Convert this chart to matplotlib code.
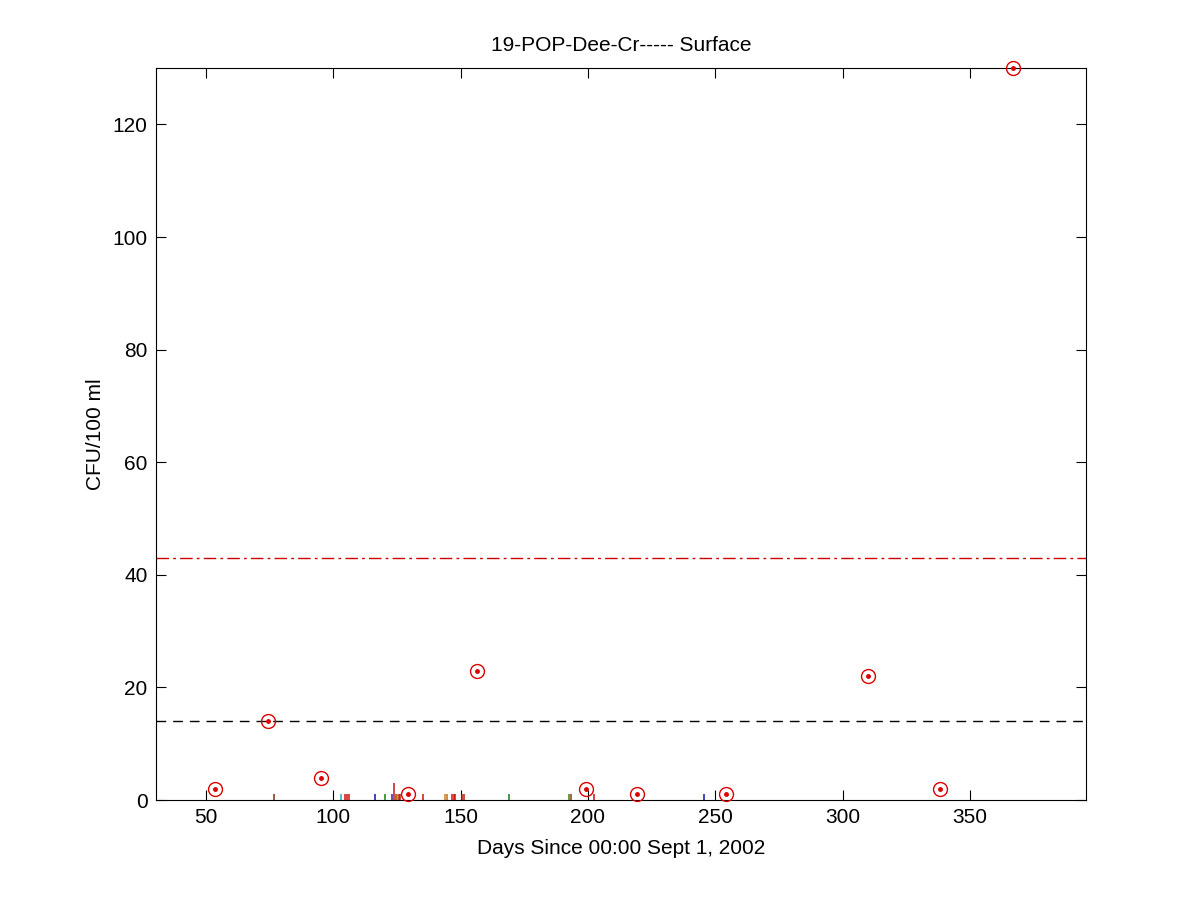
import numpy as np
import matplotlib
matplotlib.use("Agg")
import matplotlib.pyplot as plt

plt.rcParams.update({"font.family": ["Liberation Sans", "DejaVu Sans"],
                     "font.size": 15})

# sample results (day, CFU/100 ml)
days = [53.5, 74.4, 95.2, 129.3, 156.4, 199.3, 219.3, 254.2, 310.0, 338.3, 367.0]
cfu = [2, 14, 4, 1, 23, 2, 1, 1, 22, 2, 130]

# small coloured bars along the bottom
bar_days = [76.7, 102.9, 104.8, 105.3, 106.2, 116.4, 120.2, 122.9, 124.0, 124.5,
            125.1, 125.7, 126.2, 135.1, 144.0, 144.5, 146.8, 147.4, 147.9,
            150.7, 151.5, 168.9, 192.7, 193.4, 202.5, 245.7]
bar_vals = [1, 1, 1, 1, 1, 1, 1, 1, 3, 1,
            1, 1, 1, 1, 1, 1, 1, 1, 1,
            1, 1, 1, 1, 1, 1, 1]
bar_cols = ["#8b2a10", "#20b0b0", "#d01010", "#d01010", "#d01010", "#1010b0",
            "#108010", "#4020a0", "#d01010", "#108010", "#c07010", "#d01010",
            "#b02010", "#d01010", "#d08020", "#c07010", "#d01010", "#d01010",
            "#d01010", "#b02010", "#b02010", "#108010", "#408010", "#8b4010",
            "#d01010", "#1010b0"]

ref_hi = 43
ref_lo = 14

fig = plt.figure(figsize=(12, 9), dpi=100)
ax = fig.add_axes([0.13, 0.111, 0.775, 0.8133])

ax.vlines(bar_days, 0, bar_vals, colors=bar_cols, lw=1.1, zorder=2)
ax.axhline(ref_hi, color="#cc0000", lw=1.0, ls=(0, (9, 3, 2, 3)), zorder=1)
ax.axhline(ref_lo, color="black", lw=1.0, ls=(0, (7, 5)), zorder=1)
ax.plot(days, cfu, "o", ms=10, mfc="none", mec="#dd0000", mew=1.0,
        clip_on=False, zorder=3)
ax.plot(days, cfu, ".", ms=5, color="#dd0000", clip_on=False, zorder=3)

ax.set_xlim(30.4, 395.6)
ax.set_ylim(0, 130)
ax.set_xticks([50, 100, 150, 200, 250, 300, 350])
ax.set_yticks([0, 20, 40, 60, 80, 100, 120])
ax.tick_params(direction="in", length=7, width=0.8, top=True, right=True,
               labelsize=15, pad=6)
for s in ax.spines.values():
    s.set_linewidth(0.8)

ax.set_title("19-POP-Dee-Cr----- Surface", fontsize=15, pad=12.5)
ax.set_xlabel("Days Since 00:00 Sept 1, 2002", fontsize=15, labelpad=8.5)
ax.set_ylabel("CFU/100 ml", fontsize=15, labelpad=5.5)

fig.savefig("out.png", dpi=100)
